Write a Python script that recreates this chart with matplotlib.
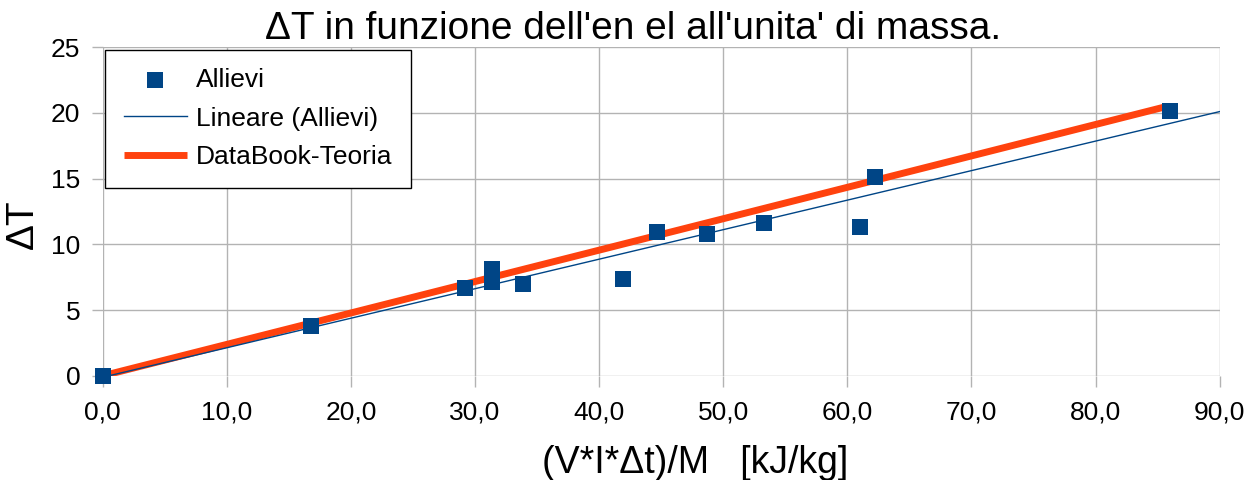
import numpy as np
import matplotlib.pyplot as plt

plt.rcParams['font.family'] = ['Liberation Sans', 'DejaVu Sans']

# misure allievi
energia = [0.0, 16.8, 29.2, 31.4, 31.4, 33.9, 41.9, 44.7, 48.7, 53.3, 61.0, 62.2, 86.0]
delta_t = [0.0, 3.8, 6.7, 8.1, 7.1, 7.0, 7.4, 10.9, 10.8, 11.6, 11.3, 15.1, 20.1]

# retta teorica (DataBook)
teoria_x = [0.0, 85.6]
teoria_y = [0.0, 20.45]

x_ticks = np.arange(0, 91, 10)
y_ticks = np.arange(0, 26, 5)

fig, ax = plt.subplots(figsize=(12.51, 4.8), dpi=100)
fig.subplots_adjust(left=0.082, right=0.975, top=0.902, bottom=0.217)

blue = '#004586'
orange = '#ff420e'

ax.plot(teoria_x, teoria_y, color=orange, lw=5, solid_capstyle='butt', zorder=3, label='DataBook-Teoria')

# trend lineare
m, q = np.polyfit(energia, delta_t, 1)
xl = np.array([0, 90])
ax.plot(xl, m * xl + q, color=blue, lw=1, zorder=4, label='Lineare (Allievi)')

ax.scatter(energia, delta_t, marker='s', s=135, color=blue, zorder=5, label='Allievi',
           linewidths=0, clip_on=False)

ax.set_xlim(0, 90)
ax.set_ylim(0, 25)
ax.set_xticks(x_ticks)
ax.set_xticklabels([f'{v:.1f}'.replace('.', ',') for v in x_ticks])
ax.set_yticks(y_ticks)
ax.grid(True, color='#b3b3b3', lw=1)
ax.set_axisbelow(True)
for s in ax.spines.values():
    s.set_visible(False)
ax.tick_params(colors='#b3b3b3', labelcolor='black', labelsize=19, length=8, width=1)
ax.tick_params(axis='x', pad=10)
ax.tick_params(axis='y', pad=8)

ax.set_title("ΔT in funzione dell'en el all'unita' di massa.", fontsize=28, pad=3, x=0.475)
ax.set_xlabel('(V*I*Δt)/M   [kJ/kg]', fontsize=27)
ax.xaxis.set_label_coords(0.53, -0.21)
ax.xaxis.label.set_va('top')
ax.set_ylabel('ΔT', fontsize=28)
ax.yaxis.set_label_coords(-0.055, 0.46)

h, l = ax.get_legend_handles_labels()
order = [2, 1, 0]
leg = ax.legend([h[i] for i in order], [l[i] for i in order], loc='upper left', fontsize=19,
                frameon=True, fancybox=False, edgecolor='black', framealpha=1,
                borderaxespad=0.1, handlelength=2.4, handletextpad=0.35,
                labelspacing=0.55, borderpad=0.7)
leg.get_frame().set_linewidth(1)

fig.savefig('out.png', dpi=100)
